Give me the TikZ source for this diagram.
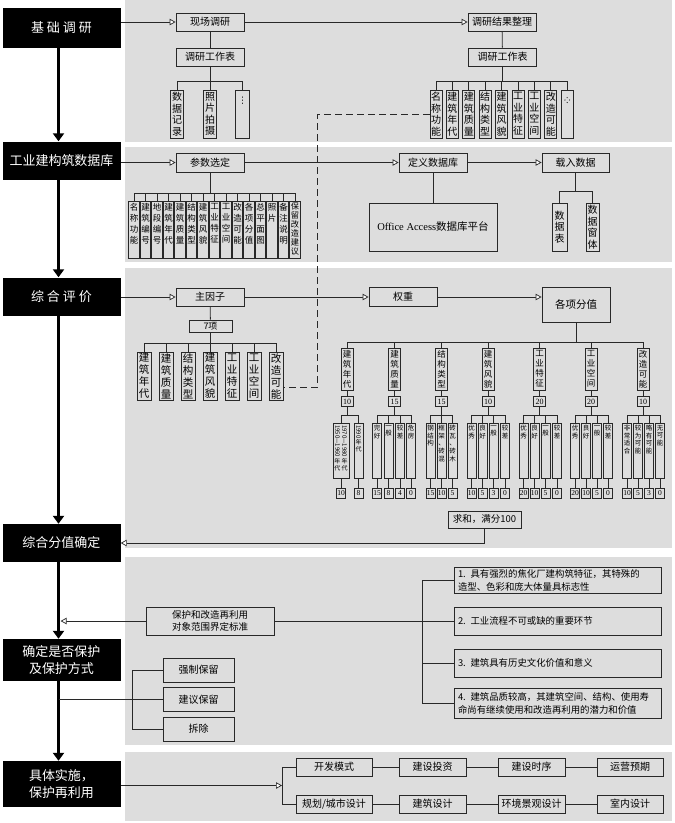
\documentclass[tikz,border=0pt]{standalone}
\usepackage{fontspec}
\usepackage{graphicx}
\setmainfont{Noto Sans CJK SC}
\newfontfamily\latfont{Liberation Serif}
\newfontfamily\djvfont{DejaVu Sans}
\usetikzlibrary{arrows.meta}
\definecolor{panel}{RGB}{221,221,221}
\definecolor{edge}{RGB}{40,40,40}
\ExplSyntaxOn
\NewDocumentCommand{\vt}{m}{
  \tl_set:No \l_tmpa_tl {#1}
  \seq_clear:N \l_tmpa_seq
  \tl_map_inline:Nn \l_tmpa_tl { \seq_put_right:Nn \l_tmpa_seq {##1} }
  \seq_use:Nn \l_tmpa_seq { \\ }
}
\ExplSyntaxOff
\tikzset{
 bx/.style={draw=edge, line width=0.9pt, fill=panel, inner sep=0pt, align=center, font=\fontsize{10}{12}\selectfont},
 ln/.style={draw=edge, line width=0.8pt},
 oarr/.style={-{Triangle[length=6pt,width=6.5pt,fill=white,line width=0.7pt]}},
 thk/.style={draw=black, line width=3.6pt, -{Triangle[length=8pt,width=11pt]}},
 blk/.style={fill=black, text=white, minimum width=118pt, inner sep=0pt, align=center, font=\fontsize{13}{17}\selectfont},
 vb/.style={bx, minimum width=12pt, minimum height=48pt, font=\fontsize{10}{11.5}\selectfont},
 pb/.style={bx, minimum width=10.5pt, minimum height=57pt},
 ptx/.style={anchor=north, inner sep=0pt, align=center, font=\fontsize{8.5}{11}\selectfont},
 fb/.style={bx, minimum width=14pt, minimum height=48pt, font=\fontsize{10.5}{12}\selectfont},
 hb/.style={bx, minimum width=12pt, minimum height=42pt, font=\fontsize{8.5}{10}\selectfont},
 scb/.style={bx, minimum width=12pt, minimum height=10pt, font=\latfont\fontsize{8}{9}\selectfont},
 sub/.style={bx, minimum height=55pt},
 subt/.style={anchor=north, yshift=-2.5pt, inner sep=0pt, align=center, font=\fontsize{6.5}{7.6}\selectfont},
 val/.style={bx, minimum width=9pt, minimum height=10pt, font=\latfont\fontsize{7.5}{8}\selectfont},
 hbx/.style={bx, minimum width=68pt, minimum height=18pt},
 rb/.style={bx, minimum width=207pt, text width=199pt, align=left, inner xsep=4pt, font=\fontsize{9.4}{13}\selectfont},
 kb/.style={bx, minimum width=71pt, minimum height=24pt},
 ib/.style={bx, minimum height=18pt},
}
\newcommand\sbx[5]{%
  \node[sub, minimum width=#5pt] (#1) at (#2,450.5) {};
  \node[subt] (#1t) at (#1.north) {\vt{#3}};
  \node[val] (#1v) at (#2,493) {#4};
  \draw[ln] (#1.south) -- (#1v.north);
  \draw[ln] (#1.north) -- (#1.north |- 0,415);
}
\begin{document}
\begin{tikzpicture}[x=1pt,y=-1pt]
\fill[white] (0,0) rectangle (675,823);
\useasboundingbox (0,0) rectangle (675,823);
% panels
\fill[panel] (125,0) rectangle (672,142);
\fill[panel] (125,147) rectangle (672,262);
\fill[panel] (125,268) rectangle (672,548);
\fill[panel] (125,557) rectangle (672,745);
\fill[panel] (125,752) rectangle (672,821);

% black column
\node[blk, minimum height=40pt] (b1) at (61.5,28) {基\hspace{3pt}础\hspace{3pt}调\hspace{3pt}研};
\node[blk, minimum height=38pt] (b2) at (61.5,160.5) {工业建构筑数据库};
\node[blk, minimum height=38pt] (b3) at (61.5,296.5) {综\hspace{3pt}合\hspace{3pt}评\hspace{3pt}价};
\node[blk, minimum height=38pt] (b4) at (61.5,543) {综合分值确定};
\node[blk, minimum height=42pt] (b5) at (61.5,660) {确定是否保护\\及保护方式};
\node[blk, minimum height=46pt] (b6) at (61.5,784) {具体实施，\\保护再利用};
\draw[thk] ([xshift=-3pt]b1.south) -- ([xshift=-3pt]b2.north);
\draw[thk] ([xshift=-3pt]b2.south) -- ([xshift=-3pt]b3.north);
\draw[thk] ([xshift=-3pt]b3.south) -- ([xshift=-3pt]b4.north);
\draw[thk] ([xshift=-3pt]b4.south) -- ([xshift=-3pt]b5.north);
\draw[thk] ([xshift=-3pt]b5.south) -- ([xshift=-3pt]b6.north);

% ---------- panel 1
\node[hbx] (xcdy) at (210,22) {现场调研};
\node[hbx] (jgzl) at (502,22) {调研结果整理};
\node[hbx] (gzb1) at (210,57) {调研工作表};
\node[hbx] (gzb2) at (502.5,57) {调研工作表};
\draw[ln,oarr] (b1.east |- xcdy.west) -- (xcdy.west);
\draw[ln,oarr] (xcdy.east) -- (jgzl.west);
\draw[ln] (xcdy) -- (gzb1);
\draw[ln] (jgzl) -- (gzb2);
\node[vb, minimum width=13pt] (L1) at (177,114) {\vt{数据记录}};
\node[vb, minimum width=13pt] (L2) at (210,114) {\vt{照片拍摄}};
\node[vb, minimum width=14pt] (L3) at (242.5,114) {};
\node[font=\djvfont\fontsize{9}{9}\selectfont, inner sep=0pt] (L3t) at (242.5,101) {⋮};
\draw[ln] (gzb1.south) -- (gzb1.south |- 0,81);
\draw[ln] (L1.north |- 0,81) -- (L3.north |- 0,81);
\foreach \i in {1,2,3} \draw[ln] (L\i.north) -- (L\i.north |- 0,81);
\foreach \x/\tx [count=\i] in {436/名称功能,452.4/建筑年代,468.8/建筑质量,485.2/结构类型,501.6/建筑风貌,518/工业特征,534.4/工业空间,550.8/改造可能} {
  \node[vb] (R\i) at (\x,114) {\vt{\tx}};
}
\node[vb] (R9) at (567.2,114) {};
\fill[edge] (567.2,97.6) circle (0.65) (567.2,102.4) circle (0.65) (564.9,100) circle (0.65) (569.5,100) circle (0.65);
\draw[ln] (gzb2.south) -- (gzb2.south |- 0,81);
\draw[ln] (R1.north |- 0,81) -- (R9.north |- 0,81);
\foreach \i in {1,...,9} \draw[ln] (R\i.north) -- (R\i.north |- 0,81);

% ---------- panel 2
\node[hbx, minimum height=19pt] (csxd) at (210,162.5) {参数选定};
\node[hbx, minimum height=19pt] (dysjk) at (433,162.5) {定义数据库};
\node[hbx, minimum height=19pt, minimum width=67pt] (zrsj) at (575.5,162.5) {载入数据};
\draw[ln,oarr] (b2.east |- csxd.west) -- (csxd.west);
\draw[ln,oarr] (csxd.east) -- (dysjk.west);
\draw[ln,oarr] (dysjk.east) -- (zrsj.west);
\foreach \x/\tx [count=\i] in {134/名称功能,145.5/建筑编号,157/地段编号,168.5/建筑年代,180/建筑质量,191.5/结构类型,203/建筑风貌,214.5/工业特征,226/工业空间,237.5/改造可能,249/各项分值,260.5/总平面图,272/照片,283.5/备注说明} {
  \node[pb] (P\i) at (\x,229.5) {};
  \node[ptx] (Pt\i) at ([yshift=-3pt]P\i.north) {\vt{\tx}};
}
\node[pb] (P15) at (295,229.5) {};
\node[ptx, font=\fontsize{8.2}{8.9}\selectfont] (Pt15) at ([yshift=-2pt]P15.north) {\vt{保留改造建议}};
\draw[ln] (csxd.south) -- (csxd.south |- 0,193);
\draw[ln] (P1.north |- 0,193) -- (P15.north |- 0,193);
\foreach \i in {1,...,15} \draw[ln] (P\i.north) -- (P\i.north |- 0,193);
\node[bx, minimum width=128pt, minimum height=48pt, font=\fontsize{10.5}{12}\selectfont] (oa) at (433,227) {{\latfont Office Access}数据库平台};
\draw[ln] (dysjk) -- (oa);
\node[vb, minimum width=15pt] (sjb) at (559.5,227) {\vt{数据表}};
\node[vb, minimum width=13pt] (sjct) at (592.5,227) {\vt{数据窗体}};
\draw[ln] (zrsj.south) -- (zrsj.south |- 0,191);
\draw[ln] (sjb.north |- 0,191) -- (sjct.north |- 0,191);
\draw[ln] (sjb.north) -- (sjb.north |- 0,191);
\draw[ln] (sjct.north) -- (sjct.north |- 0,191);

% ---------- panel 3
\node[hbx] (zyz) at (210,297) {主因子};
\node[hbx, minimum height=19pt] (qzh) at (403,297) {权重};
\node[hbx, minimum height=35pt, font=\fontsize{10.5}{12}\selectfont] (gxfz) at (576,304.5) {各项分值};
\node[bx, minimum width=43pt, minimum height=12pt, font=\fontsize{9}{10}\selectfont] (q7x) at (210.5,326) {7项};
\draw[ln,oarr] (b3.east |- zyz.west) -- (zyz.west);
\draw[ln,oarr] (zyz.east) -- (qzh.west);
\draw[ln,oarr] (qzh.east) -- (gxfz.west |- qzh.east);
\draw[ln] (zyz) -- (q7x);
\foreach \x/\tx [count=\i] in {144/建筑年代,166/建筑质量,188/结构类型,210/建筑风貌,232/工业特征,254/工业空间,276/改造可能} {
  \node[fb] (F\i) at (\x,376) {\vt{\tx}};
  \draw[ln] (F\i.north) -- (F\i.north |- 0,343);
}
\draw[ln] (q7x.south) -- (q7x.south |- 0,343);
\draw[ln] (F1.north |- 0,343) -- (F7.north |- 0,343);
% dashed link
\draw[ln, dash pattern=on 7pt off 4pt] (R1.west) -- ++(-111.7,0) |- ([yshift=-11pt]F7.east);

% headers
\foreach \x/\tx/\sv [count=\i] in {347/建筑年代/10,394.5/建筑质量/15,441.5/结构类型/15,488/建筑风貌/10,539.5/工业特征/20,591/工业空间/20,643/改造可能/10} {
  \node[hb] (H\i) at (\x,369) {\vt{\tx}};
  \node[scb] (SC\i) at (\x,401.5) {\sv};
  \draw[ln] (H\i) -- (SC\i);
  \draw[ln] (H\i.north) -- (H\i.north |- 0,342);
  \draw[ln] (SC\i.south) -- (SC\i.south |- 0,415);
}
\draw[ln] (gxfz.south) -- (gxfz.south |- 0,342);
\draw[ln] (H1.north |- 0,342) -- (H7.north |- 0,342);

% group 1
\node[sub, minimum width=16pt] (y1) at (341,450.5) {};
\node[subt, font=\fontsize{6}{7}\selectfont] (y1l) at ([xshift=-3.6pt]y1.north) {\rotatebox{-90}{1950—1960}\\年\\代};
\node[subt, font=\fontsize{6}{7}\selectfont] (y1r) at ([xshift=3.6pt]y1.north) {\rotatebox{-90}{1970—1980}\\年\\代};
\node[val] (y1v) at (341,493) {10};
\draw[ln] (y1.south) -- (y1v.north);
\draw[ln] (y1.north) -- (y1.north |- 0,415);
\node[sub, minimum width=9pt] (y2) at (358.5,450.5) {};
\node[subt, font=\fontsize{6}{7}\selectfont] (y2t) at (y2.north) {\rotatebox{-90}{1990}\\年\\代};
\node[val] (y2v) at (358.5,493) {8};
\draw[ln] (y2.south) -- (y2v.north);
\draw[ln] (y2.north) -- (y2.north |- 0,415);
\draw[ln] (y1.north |- 0,415) -- (y2.north |- 0,415);
% group 2
\sbx{zA}{377}{完好}{15}{9}
\sbx{zB}{388.5}{一般}{8}{9}
\sbx{zC}{400}{较差}{4}{9}
\sbx{zD}{411}{危房}{0}{9}
\draw[ln] (zA.north |- 0,415) -- (zD.north |- 0,415);
% group 3
\sbx{jA}{430.5}{钢结构}{15}{9}
\sbx{jB}{441.5}{框架、砖混}{10}{9}
\sbx{jC}{452.5}{砖瓦、砖木}{5}{9}
\draw[ln] (jA.north |- 0,415) -- (jC.north |- 0,415);
% group 4
\sbx{mA}{471.5}{优秀}{10}{9}
\sbx{mB}{482.5}{良好}{5}{9}
\sbx{mC}{493.5}{一般}{3}{9}
\sbx{mD}{505}{较差}{0}{9}
\draw[ln] (mA.north |- 0,415) -- (mD.north |- 0,415);
% group 5
\sbx{eA}{523.5}{优秀}{20}{9}
\sbx{eB}{534.5}{良好}{10}{9}
\sbx{eC}{545.5}{一般}{5}{9}
\sbx{eD}{557}{较差}{0}{9}
\draw[ln] (eA.north |- 0,415) -- (eD.north |- 0,415);
% group 6
\sbx{kA}{575}{优秀}{20}{9}
\sbx{kB}{586}{良好}{10}{9}
\sbx{kC}{597}{一般}{5}{9}
\sbx{kD}{608}{较差}{0}{9}
\draw[ln] (kA.north |- 0,415) -- (kD.north |- 0,415);
% group 7
\sbx{cA}{627}{非常适合}{10}{9}
\sbx{cB}{638}{较为可能}{5}{9}
\sbx{cC}{649}{略有可能}{3}{9}
\sbx{cD}{660}{无可能}{0}{9}
\draw[ln] (cA.north |- 0,415) -- (cD.north |- 0,415);

\node[bx, minimum width=73pt, minimum height=17pt, font=\fontsize{9.5}{11}\selectfont] (qh) at (484.5,519.5) {求和，满分100};
\draw[ln,oarr] (qh.south) |- (b4.east);

% ---------- panel 4
\node[bx, minimum width=128pt, minimum height=28pt, font=\fontsize{9.5}{11.5}\selectfont] (bh) at (210,621) {保护和改造再利用\\对象范围界定标准};
\node[rb, minimum height=26pt] (r1) at (557.5,580) {1. 具有强烈的焦化厂建构筑特征，其特殊的\\造型、色彩和庞大体量具标志性};
\node[rb, minimum height=28pt] (r2) at (557.5,621) {2. 工业流程不可或缺的重要环节};
\node[rb, minimum height=28pt] (r3) at (557.5,663) {3. 建筑具有历史文化价值和意义};
\node[rb, minimum height=30pt] (r4) at (557.5,703) {4. 建筑品质较高，其建筑空间、结构、使用寿\\命尚有继续使用和改造再利用的潜力和价值};
\coordinate (bkt) at (422,621);
\draw[ln] (bh.east) -- (bkt);
\draw[ln] (bkt |- r1.west) -- (bkt |- r4.west);
\foreach \n in {r1,r2,r3,r4} \draw[ln] (bkt |- \n.west) -- (\n.west);
\coordinate (ta1) at (60.6,621);
\draw[ln,oarr] (bh.west) -- (ta1);
\node[kb] (qzbl) at (198.5,670) {强制保留};
\node[kb] (jybl) at (198.5,699.5) {建议保留};
\node[kb] (chc) at (198.5,729) {拆除};
\coordinate (ta2) at (58.5,699.5);
\draw[ln] (ta2) -- (jybl.west);
\coordinate (bk2) at (132,670);
\draw[ln] (bk2 |- qzbl.west) -- (bk2 |- chc.west);
\draw[ln] (bk2 |- qzbl.west) -- (qzbl.west);
\draw[ln] (bk2 |- chc.west) -- (chc.west);

% ---------- panel 5
\node[ib, minimum width=76pt] (kf) at (334,767) {开发模式};
\node[ib, minimum width=67pt] (tz) at (432.5,767) {建设投资};
\node[ib, minimum width=67pt] (sx) at (531.5,767) {建设时序};
\node[ib, minimum width=66pt] (yy) at (630,767) {运营预期};
\node[ib, minimum width=76pt] (gh) at (334,804) {规划/城市设计};
\node[ib, minimum width=67pt] (jz) at (432.5,804) {建筑设计};
\node[ib, minimum width=67pt] (hj) at (531.5,804) {环境景观设计};
\node[ib, minimum width=66pt] (sn) at (630,804) {室内设计};
\draw[ln] (kf) -- (tz); \draw[ln] (tz) -- (sx); \draw[ln] (sx) -- (yy);
\draw[ln] (gh) -- (jz); \draw[ln] (jz) -- (hj); \draw[ln] (hj) -- (sn);
\coordinate (bk3) at (282,785.5);
\draw[ln,oarr] (b6.east |- bk3) -- (bk3);
\draw[ln] (bk3 |- kf.west) -- (bk3 |- gh.west);
\draw[ln] (bk3 |- kf.west) -- (kf.west);
\draw[ln] (bk3 |- gh.west) -- (gh.west);
\end{tikzpicture}
\end{document}
